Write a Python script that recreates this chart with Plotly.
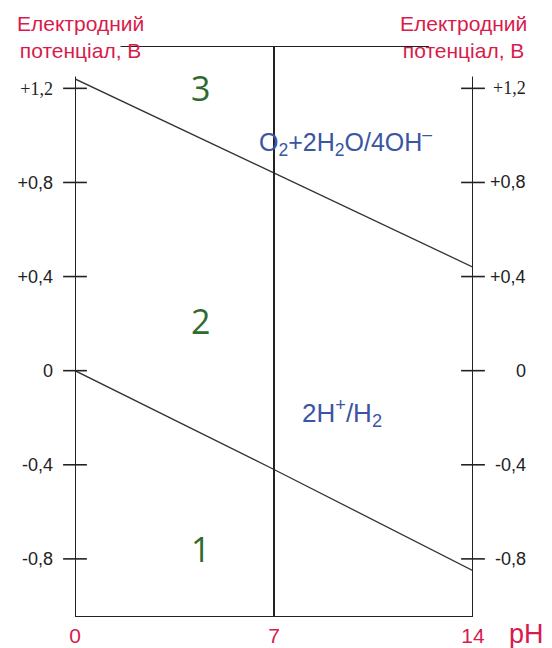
import plotly.graph_objects as go

# ---- data ----
ph = [0, 7, 14]
e_o2 = [1.24, 0.84, 0.44]      # O2 + 2H2O / 4OH- line
e_h2 = [0.0, -0.42, -0.85]     # 2H+ / H2 line
ph_ticks = [0, 7, 14]
ph_ticktext = ["0", "7", "14"]
e_ticks = [1.2, 0.8, 0.4, 0, -0.4, -0.8]
e_ticktext = ["<span style='font-family:Liberation Serif'>+1,2</span>", "+0,8", "+0,4", "0", "-0,4", "-0,8"]
region_labels = ["3", "2", "1"]
region_x = [4.4, 4.4, 4.4]
region_y = [1.20, 0.21, -0.76]

Y_MIN, Y_TOP = -1.047, 1.38
AXIS_TOP = 1.25

CRIMSON = "#d81b4c"
FRAME = "#222222"
GREEN = "#2f6a2f"
BLUE = "#3a55a2"
SANS = "Liberation Sans, Arial"

fig = go.Figure()

fig.add_trace(go.Scatter(x=ph, y=e_o2, mode="lines", line=dict(color="#333", width=1.3),
                         hoverinfo="skip", showlegend=False))
fig.add_trace(go.Scatter(x=ph, y=e_h2, mode="lines", line=dict(color="#333", width=1.3),
                         hoverinfo="skip", showlegend=False))

# crossing tick marks on both vertical axes
for xv in (0, 14):
    fig.add_trace(go.Scatter(x=[xv] * len(e_ticks), y=e_ticks, mode="markers",
                             marker=dict(symbol="line-ew", size=17,
                                         line=dict(color=FRAME, width=1.6)),
                             cliponaxis=False, hoverinfo="skip", showlegend=False))

# frame lines
fig.add_shape(type="line", xref="x", yref="y", x0=0, x1=0, y0=Y_MIN, y1=AXIS_TOP,
              line=dict(color=FRAME, width=2))
fig.add_shape(type="line", xref="x", yref="y", x0=14, x1=14, y0=Y_MIN, y1=AXIS_TOP,
              line=dict(color=FRAME, width=2))
fig.add_shape(type="line", xref="x", yref="y", x0=7, x1=7, y0=Y_MIN, y1=Y_TOP,
              line=dict(color=FRAME, width=2))
fig.add_shape(type="line", xref="x", yref="y", x0=1.6, x1=12.45, y0=Y_TOP, y1=Y_TOP,
              line=dict(color=FRAME, width=2))
fig.add_shape(type="line", xref="x", yref="y", x0=0, x1=14, y0=Y_MIN, y1=Y_MIN,
              line=dict(color=FRAME, width=2))

# right-side tick labels
for v, t in zip(e_ticks, e_ticktext):
    fig.add_annotation(x=14, y=v, xref="x", yref="y", text=t, showarrow=False,
                       xanchor="right", xshift=55, font=dict(size=18, color="#222", family=SANS))

# region numbers
for t, xv, yv in zip(region_labels, region_x, region_y):
    fig.add_annotation(x=xv, y=yv, xref="x", yref="y", text=t, showarrow=False,
                       font=dict(size=34, color=GREEN, family="Open Sans"))

fig.add_annotation(x=9.5, y=0.97, xref="x", yref="y",
                   text="O<sub>2</sub>+2H<sub>2</sub>O/4OH<sup>–</sup>", showarrow=False,
                   font=dict(size=25, color=BLUE, family=SANS))
fig.add_annotation(x=9.4, y=-0.18, xref="x", yref="y",
                   text="2H<sup>+</sup>/H<sub>2</sub>", showarrow=False,
                   font=dict(size=26, color=BLUE, family=SANS))

# axis titles
title = "Електродний<br>потенціал, В"
fig.add_annotation(x=0, y=1, xref="x", yref="paper", text=title, showarrow=False,
                   xanchor="center", yanchor="bottom", xshift=5, yshift=-18,
                   font=dict(size=21, color=CRIMSON, family=SANS))
fig.add_annotation(x=14, y=1, xref="x", yref="paper", text=title, showarrow=False,
                   xanchor="center", yanchor="bottom", xshift=-10, yshift=-18,
                   font=dict(size=21, color=CRIMSON, family=SANS))
fig.add_annotation(x=14, y=0, xref="x", yref="paper", text="pH", showarrow=False,
                   xanchor="center", yanchor="middle", xshift=53, yshift=-17,
                   font=dict(size=27, color=CRIMSON, family=SANS))

fig.update_layout(
    width=544, height=640,
    margin=dict(l=67, r=79, t=38, b=31, autoexpand=False),
    plot_bgcolor="white", paper_bgcolor="white",
    xaxis=dict(range=[0, 14], tickvals=ph_ticks, ticktext=ph_ticktext, ticks="",
               automargin=False,
               showgrid=False, zeroline=False, showline=False, ticklabelstandoff=4,
               tickfont=dict(size=21, color=CRIMSON, family=SANS)),
    yaxis=dict(range=[Y_MIN, Y_TOP], tickvals=e_ticks, ticktext=e_ticktext, ticks="",
               automargin=False,
               showgrid=False, zeroline=False, showline=False, ticklabelstandoff=21,
               tickfont=dict(size=18, color="#222", family=SANS)),
)

fig.write_html("out.html")
